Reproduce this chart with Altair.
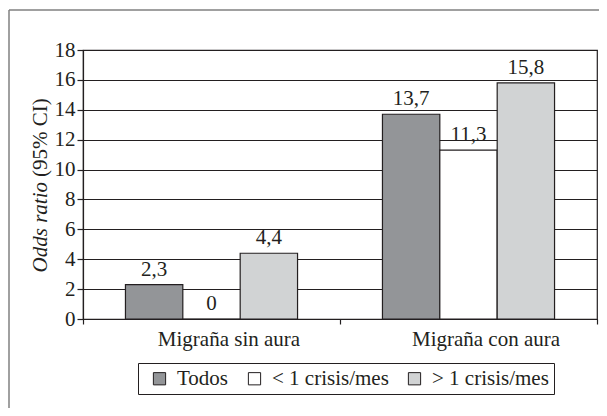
import altair as alt
import pandas as pd

categories = ["Migraña sin aura", "Migraña con aura"]
series = ["Todos", "< 1 crisis/mes", "> 1 crisis/mes"]
values_sin_aura = [2.3, 0, 4.4]
values_con_aura = [13.7, 11.3, 15.8]
y_ticks = [0, 2, 4, 6, 8, 10, 12, 14, 16, 18]
colors = ["#939598", "#ffffff", "#d1d3d4"]

FONT = "Liberation Serif"
INK = "#231f20"
FS = 21


def fmt(v):
    return "0" if v == 0 else f"{v:.1f}".replace(".", ",")


rows = []
for cat, vals in zip(categories, [values_sin_aura, values_con_aura]):
    for s, v in zip(series, vals):
        rows.append({"categoria": cat, "serie": s, "valor": v, "etiqueta": fmt(v)})
df = pd.DataFrame(rows)

x_axis = alt.Axis(
    title=None,
    labelAngle=0,
    tickBand="extent",
    labelOffset=17,
    labelFont=FONT,
    labelFontSize=FS,
    labelColor=INK,
    labelPadding=4,
    tickSize=5,
    tickColor=INK,
    domainColor=INK,
    domainWidth=1.2,
    tickWidth=1.2,
)
y_axis = alt.Axis(
    title=None,
    values=y_ticks,
    tickCount=10,
    labelOverlap=False,
    grid=True,
    gridColor=INK,
    gridWidth=1.2,
    gridOpacity=1,
    labelFont=FONT,
    labelFontSize=FS,
    labelColor=INK,
    labelPadding=2,
    tickSize=6,
    tickColor=INK,
    tickWidth=1.2,
    domainColor=INK,
    domainWidth=1.2,
)

x_enc = alt.X(
    "categoria:N",
    sort=categories,
    scale=alt.Scale(paddingInner=0, paddingOuter=0),
    axis=x_axis,
)
xoff = alt.XOffset(
    "serie:N",
    sort=series,
    scale=alt.Scale(domain=series, paddingInner=0, paddingOuter=0.74),
)
y_enc = alt.Y(
    "valor:Q",
    scale=alt.Scale(domain=[0, 18], nice=False),
    axis=y_axis,
)

bars = alt.Chart(df).mark_bar(stroke=INK, strokeWidth=1.2).encode(
    x=x_enc,
    xOffset=xoff,
    y=y_enc,
    color=alt.Color(
        "serie:N",
        sort=series,
        scale=alt.Scale(domain=series, range=colors),
        legend=alt.Legend(
            title=None,
            orient="none",
            legendX=55,
            legendY=313,
            direction="horizontal",
            strokeColor=INK,
            padding=5,
            symbolType="square",
            symbolSize=150,
            symbolStrokeColor=INK,
            symbolStrokeWidth=1,
            symbolOffset=6,
            labelFont=FONT,
            labelFontSize=FS,
            labelColor=INK,
            labelOffset=7,
            columnPadding=9,
        ),
    ),
)

labels = alt.Chart(df).mark_text(
    baseline="bottom", dy=-5, font=FONT, fontSize=FS, color=INK
).encode(
    x=x_enc,
    xOffset=xoff,
    y=y_enc,
    text="etiqueta:N",
)

title_a = alt.Chart(pd.DataFrame({"t": ["Odds ratio"]})).mark_text(
    angle=270, align="right", baseline="middle", font=FONT, fontSize=FS,
    fontStyle="italic", color=INK,
).encode(x=alt.value(-42), y=alt.value(132), text="t:N")

title_b = alt.Chart(pd.DataFrame({"t": ["(95% CI)"]})).mark_text(
    angle=270, align="left", baseline="middle", font=FONT, fontSize=FS, color=INK,
).encode(x=alt.value(-42), y=alt.value(127), text="t:N")

frame_df = pd.DataFrame({"k": [0]})
frame_top = alt.Chart(frame_df).mark_rule(color="#808080", strokeWidth=1.5).encode(
    x=alt.value(-74), x2=alt.value(530), y=alt.value(-40)
)
frame_left = alt.Chart(frame_df).mark_rule(color="#808080", strokeWidth=1.5).encode(
    x=alt.value(-74), y=alt.value(-40), y2=alt.value(370)
)

chart = (
    alt.layer(bars, labels, title_a, title_b, frame_top, frame_left)
    .properties(
        width=514,
        height=269,
        autosize=alt.AutoSizeParams(type="none"),
        padding={"left": 75, "top": 42, "right": 2, "bottom": 89},
    )
    .configure_view(stroke=INK, strokeWidth=1.2)
)

chart.save("out.html", embed_options={"renderer": "svg", "actions": False})
